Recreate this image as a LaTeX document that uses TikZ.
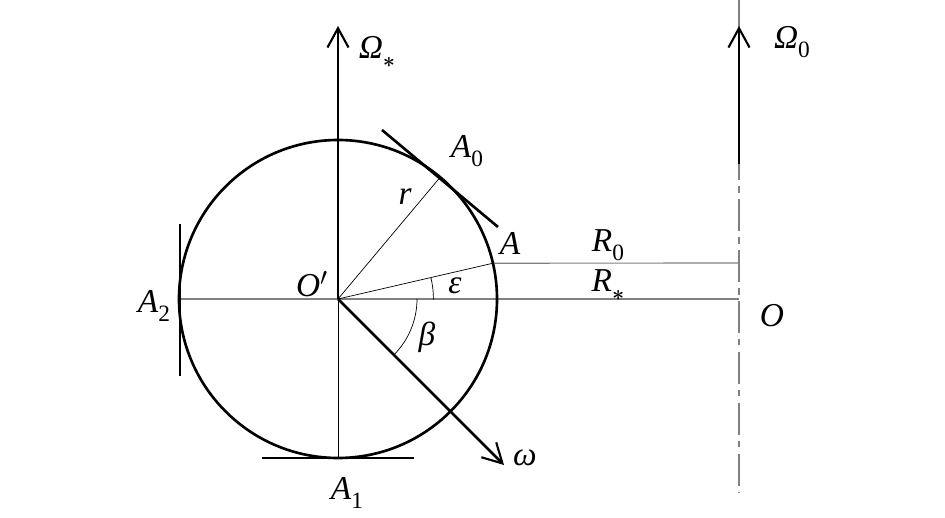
\documentclass[tikz,border=0pt]{standalone}
\usepackage{fontspec}
\setmainfont{Liberation Serif}
\usetikzlibrary{arrows.meta}
\newcommand{\lowsub}[1]{\raisebox{-.6ex}{\scalebox{.7}{\upshape #1}}}
\tikzset{
  heavy/.style={line width=1.5pt},
  hair/.style={line width=.4pt},
  greyline/.style={line width=.65pt, color=black!50},
  axisdash/.style={greyline, dash pattern=on 18.2pt off 3.6pt on 3.6pt off 3.6pt},
  vector/.style={heavy, -{Straight Barb[length=11pt, width=12pt, line width=1.2pt]}},
  lab/.style={font=\itshape\fontsize{19}{19}\selectfont, inner sep=0pt}
}
\begin{document}
\begin{tikzpicture}[x=.02cm, y=.02cm]
  \useasboundingbox (-338,-218) rectangle (607,299);
  \coordinate (centre) at (0,0);
  \coordinate (pointA) at (13:159);
  \coordinate (pointAz) at (50:159);
  \coordinate (axisO) at (401,0);
  \coordinate (axisA) at (401,36);
  % grey lines and axis
  \draw[greyline] (-159,0) -- (axisO);
  \draw[greyline] (pointA) -- (axisA);
  \draw[greyline] (401,299) -- (401,151);
  \draw[axisdash] (401,151) -- (401,-194);
  % circle with radii
  \draw[heavy] (centre) circle[radius=159];
  \draw[hair] (centre) -- (pointAz);
  \draw[hair] (centre) -- (pointA);
  \draw[hair] (centre) -- (0,-159);
  % tangents
  \draw[heavy] (44,169) -- (160,72);
  \draw[heavy] (-158,75) -- (-158,-77);
  \draw[heavy] (-76,-159) -- (76,-159);
  % vectors
  \draw[vector] (centre) -- (0,273);
  \draw[vector] (401,135) -- (401,273);
  \draw[vector] (centre) -- (166,-166);
  % angle marks
  \draw[hair] (93,21) arc[start angle=13, end angle=0, radius=95];
  \draw[hair] (79,0) arc[start angle=0, end angle=-45, radius=79];
  % labels
  \node[lab] (omegastar) at (39,247) {Ω\lowsub{\boldmath$*$}};
  \node[lab] (omegazero) at (454,257) {Ω\lowsub{0}};
  \node[lab] (labelAz) at (129,148) {A\lowsub{0}};
  \node[lab] (labelr) at (67,102) {r};
  \node[lab] (labelA) at (172,56) {A};
  \node[lab] (labelRz) at (270,54) {R\lowsub{0}};
  \node[lab] (labelRs) at (270,14) {R\lowsub{\boldmath$*$}};
  \node[lab] (labeleps) at (117,13) {ε};
  \node[lab] (labelOp) at (-26,15) {O$'$};
  \node[lab] (labelAt) at (-184,-7) {A\lowsub{2}};
  \node[lab] (labelbeta) at (89,-38) {β};
  \node[lab] (labelO) at (434,-17) {O};
  \node[lab] (labelomega) at (187,-159) {ω};
  \node[lab] (labelAo) at (9,-194) {A\lowsub{1}};
\end{tikzpicture}
\end{document}
